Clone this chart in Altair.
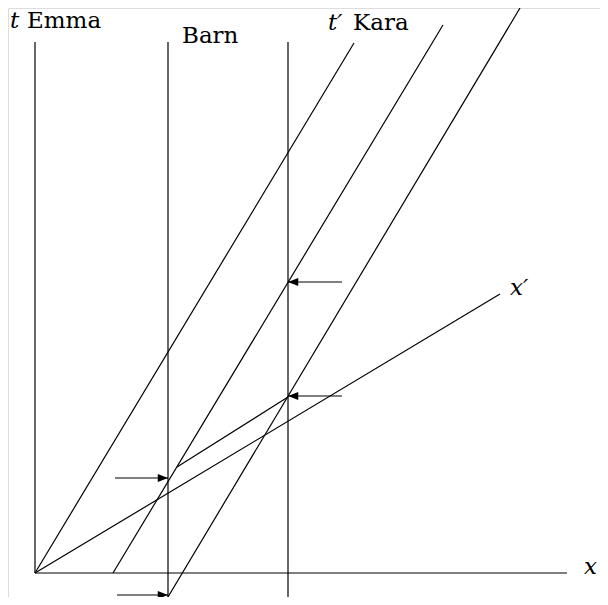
import altair as alt
import pandas as pd

# Segment endpoints (diagram units)
seg_names = ["emma", "xaxis", "barn", "kara", "tprime", "rear", "front", "xprime", "simul"]
seg_x1 = [0.0, 0.0, 13.3, 25.3, 0.0, 7.8, 13.0, 0.0, 14.2]
seg_t1 = [0.0, 0.0, -2.7, -2.7, 0.0, 0.0, -2.9, 0.0, 10.6]
seg_x2 = [0.0, 53.2, 13.3, 25.3, 31.9, 40.8, 48.5, 46.5, 25.3]
seg_t2 = [53.1, 0.0, 53.1, 53.1, 53.0, 54.8, 56.5, 27.9, 17.6]

# Arrows: tail -> tip
arr_x1 = [8.0, 8.2, 30.7, 30.7]
arr_x2 = [13.3, 13.3, 25.3, 25.3]
arr_t = [9.5, -2.2, 29.1, 17.7]
arr_dir = ["right", "right", "left", "left"]

# Labels
lab_text = ["t", "Emma", "Barn", "t\u2032", "Kara", "x\u2032", "x"]
lab_x = [-2.5, -0.8, 14.7, 29.3, 31.8, 47.5, 54.9]
lab_t = [54.5, 54.5, 53.0, 54.3, 54.3, 27.8, -0.1]
lab_style = ["italic", "normal", "normal", "italic", "normal", "italic", "italic"]

segs = pd.DataFrame({"name": seg_names, "x": seg_x1, "t": seg_t1, "x2": seg_x2, "t2": seg_t2})
arrows = pd.DataFrame({"x": arr_x1, "x2": arr_x2, "t": arr_t, "dir": arr_dir})
labels = pd.DataFrame({"text": lab_text, "x": lab_x, "t": lab_t, "style": lab_style})

xs = alt.Scale(domain=[-2.7, 56.5], nice=False, zero=False)
ys = alt.Scale(domain=[-2.4, 56.5], nice=False, zero=False)

X = lambda f: alt.X(f, scale=xs, axis=None)
Y = lambda f: alt.Y(f, scale=ys, axis=None)

lines = alt.Chart(segs).mark_rule(color="black", strokeWidth=1.2).encode(
    x=X("x:Q"), y=Y("t:Q"), x2="x2:Q", y2="t2:Q",
)

shafts = alt.Chart(arrows).mark_rule(color="black", strokeWidth=1.2).encode(
    x=X("x:Q"), x2="x2:Q", y=Y("t:Q"),
)

heads_r = alt.Chart(arrows).transform_filter(alt.datum.dir == "right").mark_point(
    shape="M0,0L-1,-0.39L-1,0.39Z", filled=True, color="black", opacity=1, size=420
).encode(x=X("x2:Q"), y=Y("t:Q"))
heads_l = alt.Chart(arrows).transform_filter(alt.datum.dir == "left").mark_point(
    shape="M0,0L1,-0.39L1,0.39Z", filled=True, color="black", opacity=1, size=420
).encode(x=X("x2:Q"), y=Y("t:Q"))

text_it = alt.Chart(labels).transform_filter(alt.datum.style == "italic").mark_text(
    align="left", baseline="alphabetic", font="DejaVu Serif", fontSize=23,
    fontStyle="italic", color="black"
).encode(x=X("x:Q"), y=Y("t:Q"), text="text:N")
text_rm = alt.Chart(labels).transform_filter(alt.datum.style == "normal").mark_text(
    align="left", baseline="alphabetic", font="DejaVu Serif", fontSize=23,
    color="black"
).encode(x=X("x:Q"), y=Y("t:Q"), text="text:N")

chart = alt.layer(lines, shafts, heads_r, heads_l, text_it, text_rm).properties(
    width=592, height=589, padding=0,
    autosize=alt.AutoSizeParams(type="none"),
).configure_view(stroke="transparent", strokeWidth=0).configure(background="white")

chart.save("out.html", embed_options={"renderer": "svg", "actions": False})
